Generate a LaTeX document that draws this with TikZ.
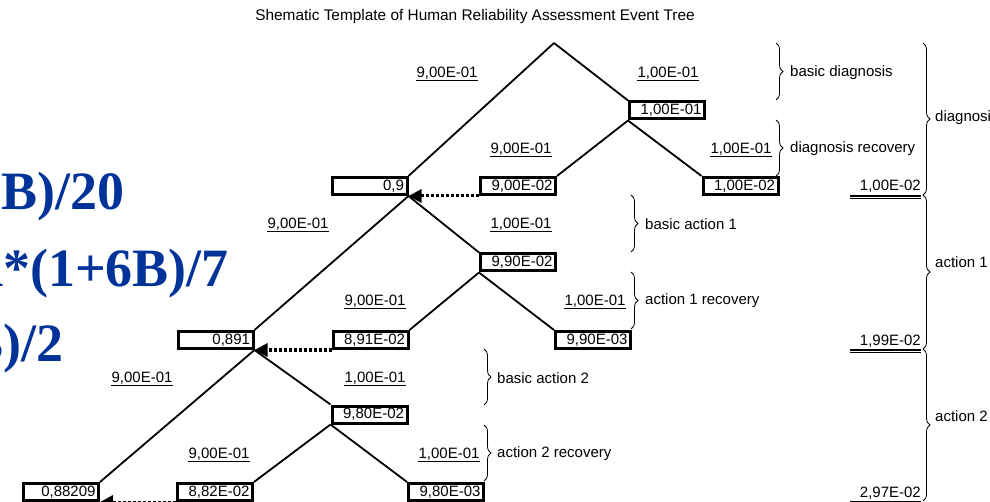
\documentclass[tikz,border=0pt]{standalone}
\usepackage{fontspec}
\setmainfont{Liberation Sans}
\newfontfamily\formulafont{Liberation Serif}
\usetikzlibrary{arrows.meta,decorations.pathreplacing}
\definecolor{formulablue}{RGB}{0,51,153}
\begin{document}
\begin{tikzpicture}[x=1pt, y=-1pt, font=\fontsize{15}{18}\selectfont,
  box_style/.style={draw, line width=3pt, minimum height=17pt, text width=69pt, inner xsep=3pt, inner ysep=0pt, align=right},
  edge_style/.style={draw=black, line width=1.8pt},
  back_style/.style={draw=black, line width=3pt, dash pattern=on 3pt off 2pt, -{Triangle[length=13pt,width=13pt]}},
  prob_style/.style={anchor=base, inner sep=0pt, text depth=3pt, append after command={(\tikzlastnode.south west) edge[line width=1.4pt] (\tikzlastnode.south east)}},
  total_style/.style={anchor=base east, inner sep=0pt, text depth=6pt},
  total_line/.style={double, line width=1.4pt, double distance=1.2pt},
  brace_style/.style={decorate, decoration={brace, amplitude=7pt}, line width=0.8pt},
  note_style/.style={anchor=west, inner sep=0pt},
  formula_style/.style={anchor=base east, inner sep=0pt, text=formulablue, font=\formulafont\bfseries\fontsize{54}{60}\selectfont}]
      \useasboundingbox (0,0) rectangle (990,502);
      \clip (0,0) rectangle (990,502);
      \node[anchor=base, font=\fontsize{15.4}{18}\selectfont] (title) at (475,21) {Shematic Template of Human Reliability Assessment Event Tree};
      \node[formula_style] (form1) at (125,210) {(1+19B)/20};
      \node[formula_style] (form2) at (229,287) {A*(1+6B)/7};
      \node[formula_style] (form3) at (64,361) {(1+B)/2};
      \coordinate (top) at (554,43);
      \draw
        (667.0, 110.5) node[box_style] (diag){1,00E-01}
        (369.5, 186.0) node[box_style] (ok1){0,9}
        (518.0, 186.0) node[box_style] (rec1){9,00E-02}
        (740.5, 186.0) node[box_style] (fail1){1,00E-02}
        (518.0, 262.5) node[box_style] (act1){9,90E-02}
        (215.5, 340.0) node[box_style] (ok2){0,891}
        (370.5, 340.0) node[box_style] (rec2){8,91E-02}
        (593.0, 340.0) node[box_style] (fail2){9,90E-03}
        (369.5, 414.5) node[box_style] (act2){9,80E-02}
        (61.0, 492.0) node[box_style] (ok3){0,88209}
        (215.0, 492.0) node[box_style] (rec3){8,82E-02}
        (446.0, 492.0) node[box_style] (fail3){9,80E-03};
      \draw[edge_style] (top) to (diag.north west);
      \draw[edge_style] (top) to (ok1.north east);
      \draw[edge_style] (diag.south west) to (rec1.north east);
      \draw[edge_style] (diag.south west) to (fail1.north west);
      \draw[edge_style] (ok1.south east) to (act1.north west);
      \draw[edge_style] (ok1.south east) to (ok2.north east);
      \draw[edge_style] (act1.south west) to (rec2.north east);
      \draw[edge_style] (act1.south west) to (fail2.north west);
      \draw[edge_style] (ok2.south east) to (act2.north west);
      \draw[edge_style] (ok2.south east) to (ok3.north east);
      \draw[edge_style] (act2.south west) to (rec3.north east);
      \draw[edge_style] (act2.south west) to (fail3.north west);
      \draw[back_style] (rec1.south west) to (ok1.south east);
      \draw[back_style] (rec2.south west) to (ok2.south east);
      \draw[back_style] (rec3.south west) to (ok3.south east);
      \draw
        (447, 77.5) node[prob_style] (p1){9,00E-01}
        (668, 77.5) node[prob_style] (p2){1,00E-01}
        (521, 153.5) node[prob_style] (p3){9,00E-01}
        (741, 153.5) node[prob_style] (p4){1,00E-01}
        (298, 228.5) node[prob_style] (p5){9,00E-01}
        (521, 228.5) node[prob_style] (p6){1,00E-01}
        (375, 305.5) node[prob_style] (p7){9,00E-01}
        (595, 305.5) node[prob_style] (p8){1,00E-01}
        (142, 382.5) node[prob_style] (p9){9,00E-01}
        (375, 382.5) node[prob_style] (p10){1,00E-01}
        (219, 458.5) node[prob_style] (p11){9,00E-01}
        (449, 458.5) node[prob_style] (p12){1,00E-01};
      \draw[brace_style] (776,43) -- (776,100);
      \draw[brace_style] (776,120) -- (776,176);
      \draw[brace_style] (631,195) -- (631,252);
      \draw[brace_style] (631,272) -- (631,329);
      \draw[brace_style] (484,349) -- (484,405);
      \draw[brace_style] (484,425) -- (484,481);
      \draw[brace_style] (923,43) -- (923,195);
      \draw[brace_style] (923,195) -- (923,349);
      \draw[brace_style] (923,349) -- (923,501);
      \draw
        (790, 73) node[note_style] (n1){basic diagnosis}
        (790, 149) node[note_style] (n2){diagnosis recovery}
        (645, 224) node[note_style] (n3){basic action 1}
        (645, 301) node[note_style] (n4){action 1 recovery}
        (497, 378) node[note_style] (n5){basic action 2}
        (497, 454) node[note_style] (n6){action 2 recovery}
        (935, 118) node[note_style] (n7){diagnosis}
        (935, 262) node[note_style] (n8){action 1}
        (935, 416) node[note_style] (n9){action 2};
      \draw
        (921, 191) node[total_style] (t1){1,00E-02}
        (921, 345) node[total_style] (t2){1,99E-02}
        (921, 497) node[total_style] (t3){2,97E-02};
      \draw[total_line] (t1.south east) -- ([xshift=-71pt]t1.south east);
      \draw[total_line] (t2.south east) -- ([xshift=-71pt]t2.south east);
      \draw[total_line] (t3.south east) -- ([xshift=-71pt]t3.south east);
    \end{tikzpicture}
\end{document}
